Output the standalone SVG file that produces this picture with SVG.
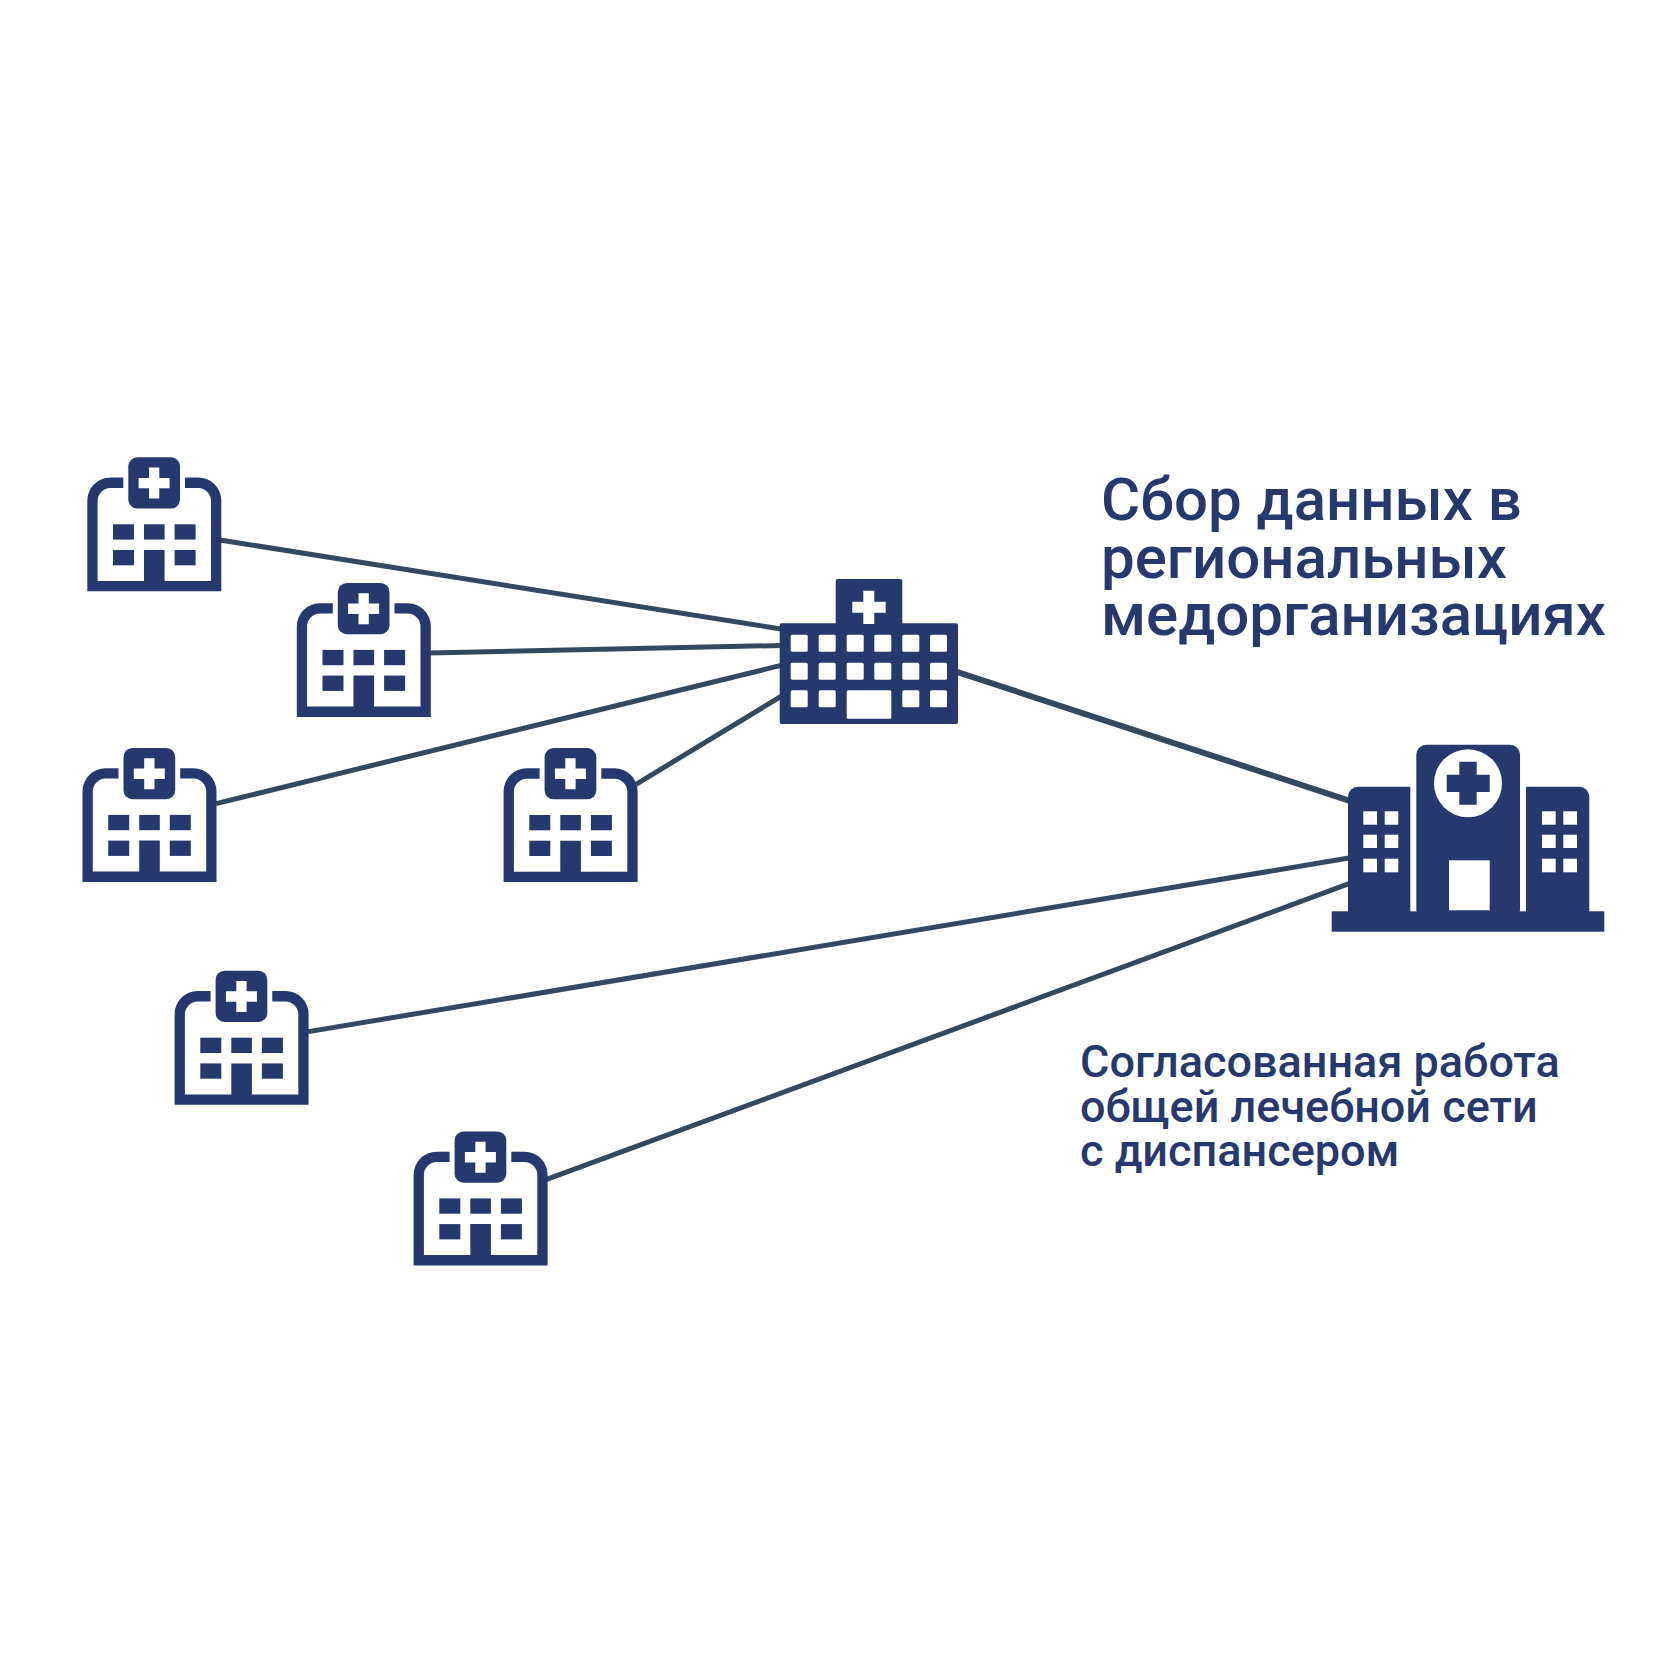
<svg xmlns="http://www.w3.org/2000/svg" xmlns:xlink="http://www.w3.org/1999/xlink" width="1680" height="1680" viewBox="0 0 1680 1680">
<style>
.n{fill:#27386f}
.w{fill:#fff}
.c{stroke:#34495e;stroke-width:5;fill:none}
.t1{font-family:Roboto,"Noto Sans",sans-serif;font-weight:500;font-size:60px;fill:#27386f}
.t2{font-family:Roboto,"Noto Sans",sans-serif;font-weight:500;font-size:45px;fill:#27386f}
</style>
<defs>
<g id="clinic">
<path class="n" d="M36 20.3H23A23 23 0 0 0 0 43.3V134H134V43.3A23 23 0 0 0 111 20.3H97.7V30.7H111A13 13 0 0 1 123.7 43.3V123.7H77.3V92.7H56.7V123.7H10.3V43.3A13 13 0 0 1 23 30.7H36Z"/>
<rect class="n" x="41" y="0" width="51.7" height="51.3" rx="9"/>
<path class="w" d="M61.7 10.3H72V20.6H82.3V31H72V41.3H61.7V31H51.3V20.6H61.7Z"/>
<rect class="n" x="25.7" y="67" width="21" height="15.3"/>
<rect class="n" x="56.7" y="67" width="20.6" height="15.3"/>
<rect class="n" x="87.3" y="67" width="21" height="15.3"/>
<rect class="n" x="25.7" y="92.7" width="21" height="15.3"/>
<rect class="n" x="87.3" y="92.7" width="21" height="15.3"/>
</g>
</defs>
<rect width="1680" height="1680" fill="#fff"/>
<g id="connectors">
<line class="c" x1="220" y1="540" x2="781" y2="629"/>
<line class="c" x1="429" y1="653" x2="781" y2="645.5"/>
<line class="c" x1="216" y1="803.6" x2="781" y2="665.4"/>
<line class="c" x1="636" y1="784.3" x2="781" y2="696.4"/>
<line class="c" style="stroke-width:6" x1="956" y1="671.6" x2="1349" y2="800.6"/>
<line class="c" x1="307" y1="1031.9" x2="1349" y2="858"/>
<line class="c" x1="546" y1="1179.7" x2="1349" y2="883.7"/>
</g>
<g id="clinic-1"><use xlink:href="#clinic" href="#clinic" x="87.3" y="457.3"/></g>
<g id="clinic-2"><use xlink:href="#clinic" href="#clinic" x="296.8" y="582.9"/></g>
<g id="clinic-3"><use xlink:href="#clinic" href="#clinic" x="82.5" y="747.9"/></g>
<g id="clinic-4"><use xlink:href="#clinic" href="#clinic" x="503.6" y="748"/></g>
<g id="clinic-5"><use xlink:href="#clinic" href="#clinic" x="174.6" y="970.7"/></g>
<g id="clinic-6"><use xlink:href="#clinic" href="#clinic" x="413.6" y="1131.4"/></g>
<g id="regional-hospital">
<rect class="n" x="779.7" y="623.3" width="178.3" height="100.7" rx="2"/>
<rect class="n" x="835.7" y="579" width="66.6" height="50" rx="2"/>
<path class="w" d="M863.3 590.7H874.3V601.7H885.7V612.7H874.3V624H863.3V612.7H852.3V601.7H863.3Z"/>
<g class="w">
<rect x="790.7" y="634.7" width="17" height="17" rx="1.5"/><rect x="818.7" y="634.7" width="17" height="17" rx="1.5"/><rect x="846.7" y="634.7" width="17" height="17" rx="1.5"/><rect x="874.3" y="634.7" width="17" height="17" rx="1.5"/><rect x="902.3" y="634.7" width="17" height="17" rx="1.5"/><rect x="930" y="634.7" width="17" height="17" rx="1.5"/>
<rect x="790.7" y="662.7" width="17" height="17" rx="1.5"/><rect x="818.7" y="662.7" width="17" height="17" rx="1.5"/><rect x="846.7" y="662.7" width="17" height="17" rx="1.5"/><rect x="874.3" y="662.7" width="17" height="17" rx="1.5"/><rect x="902.3" y="662.7" width="17" height="17" rx="1.5"/><rect x="930" y="662.7" width="17" height="17" rx="1.5"/>
<rect x="790.7" y="690.3" width="17" height="17" rx="1.5"/><rect x="818.7" y="690.3" width="17" height="17" rx="1.5"/><rect x="846.7" y="690.3" width="44.6" height="28.4" rx="1.5"/><rect x="902.3" y="690.3" width="17" height="17" rx="1.5"/><rect x="930" y="690.3" width="17" height="17" rx="1.5"/>
</g>
</g>
<g id="dispensary">
<rect class="n" x="1331.7" y="911.3" width="272.6" height="20.4"/>
<path class="n" d="M1410.3 786.7H1358A10 10 0 0 0 1348 796.7V912H1410.3Z"/>
<path class="n" d="M1526 786.7H1579.3A10 10 0 0 1 1589.3 796.7V912H1526Z"/>
<rect class="n" x="1416.3" y="744.7" width="103.7" height="175" rx="10"/>
<circle class="w" cx="1468" cy="783.3" r="34"/>
<path class="n" d="M1459.3 761.7H1476.7V774.7H1489.7V792H1476.7V804.7H1459.3V792H1446.7V774.7H1459.3Z"/>
<rect class="w" x="1449" y="860.3" width="40.7" height="50"/>
<g class="w">
<rect x="1363.3" y="811.3" width="13.7" height="13.4"/><rect x="1384.7" y="811.3" width="13.6" height="13.4"/>
<rect x="1363.3" y="834.7" width="13.7" height="13.3"/><rect x="1384.7" y="834.7" width="13.6" height="13.3"/>
<rect x="1363.3" y="858.7" width="13.7" height="13.6"/><rect x="1384.7" y="858.7" width="13.6" height="13.6"/>
<rect x="1542" y="811.3" width="13.7" height="13.4"/><rect x="1563.3" y="811.3" width="13.7" height="13.4"/>
<rect x="1542" y="834.7" width="13.7" height="13.3"/><rect x="1563.3" y="834.7" width="13.7" height="13.3"/>
<rect x="1542" y="858.7" width="13.7" height="13.6"/><rect x="1563.3" y="858.7" width="13.7" height="13.6"/>
</g>
</g>
<g id="heading">
<text class="t1" x="1101" y="520">Сбор данных в</text>
<text class="t1" x="1101" y="577.5">региональных</text>
<text class="t1" x="1101" y="635">медорганизациях</text>
</g>
<g id="caption">
<text class="t2" x="1080" y="1077.3">Согласованная работа</text>
<text class="t2" x="1080" y="1121.5">общей лечебной сети</text>
<text class="t2" x="1080" y="1165.7">с диспансером</text>
</g>
</svg>
